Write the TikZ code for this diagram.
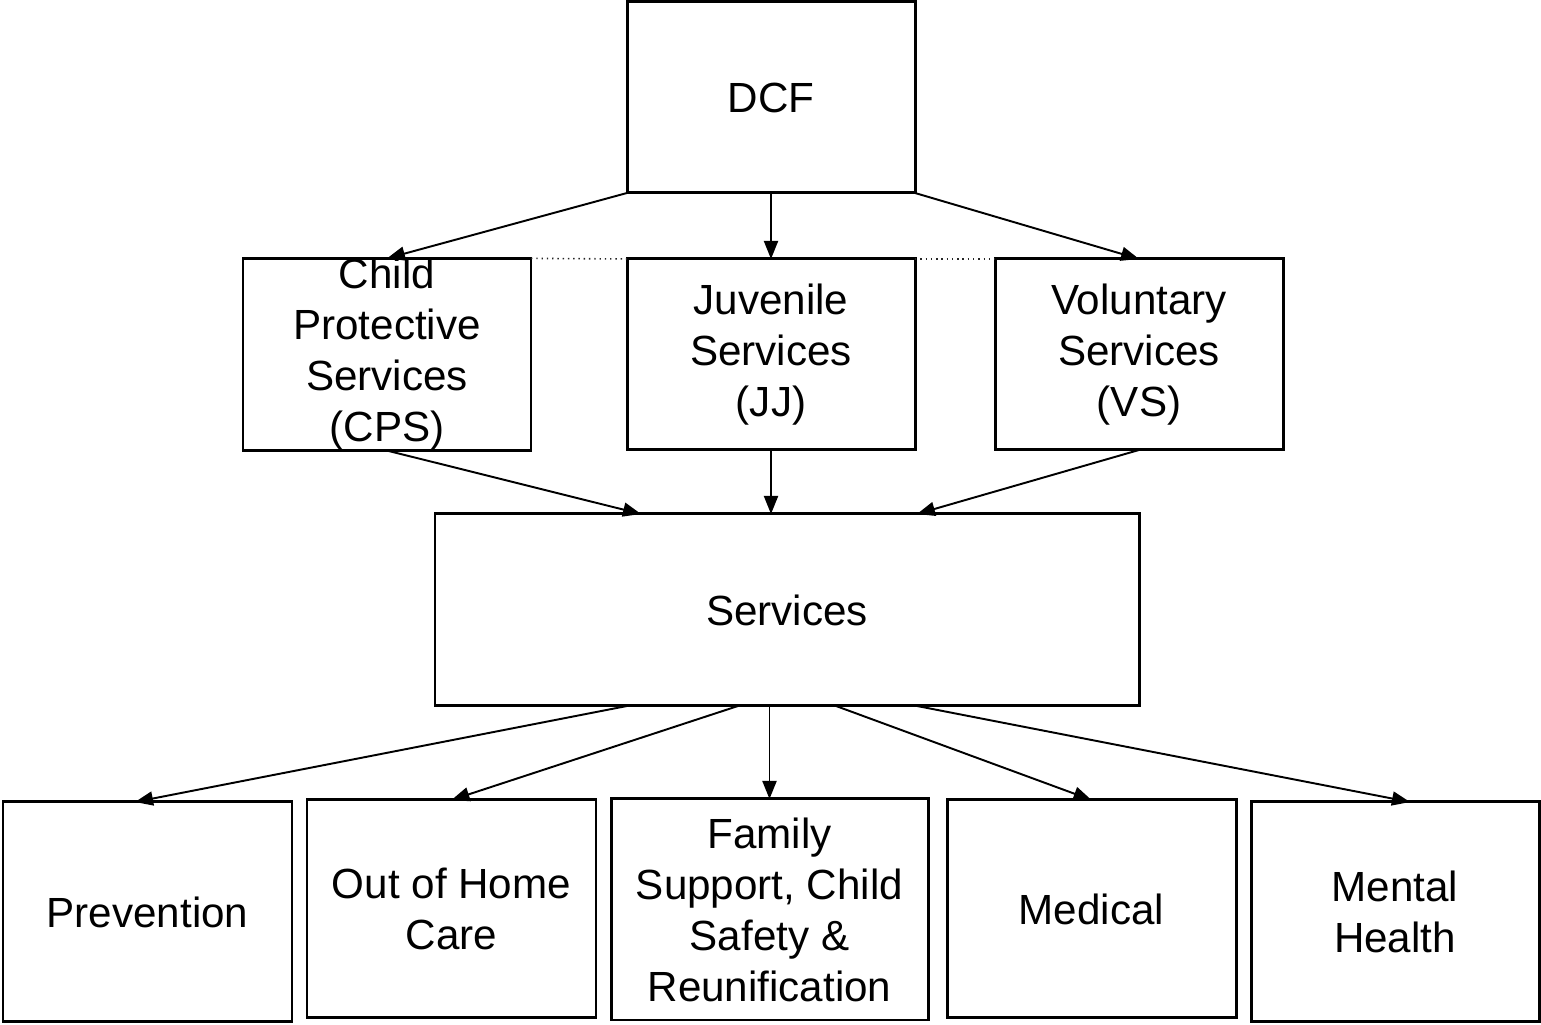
\documentclass[tikz,border=0pt]{standalone}
\usepackage{fontspec}
\setmainfont{Liberation Sans}
\usetikzlibrary{arrows.meta}
\tikzset{
  box/.style={draw, line width=0.85pt, inner sep=0pt, outer sep=0pt, align=center,
    font=\fontsize{12}{14.5}\selectfont},
  link/.style={line width=0.55pt, -{Triangle[length=0.18cm,width=0.14cm]}},
  gap/.style={dash pattern=on 0.4pt off 1.1pt, line width=0.45pt, black!85}
}
\begin{document}
\begin{tikzpicture}
          \useasboundingbox (0, 0) rectangle (15.41, 10.25);
          % top
          \node[box, minimum width=2.88cm, minimum height=1.91cm] (dcf) at (7.71, 9.275){DCF};
          % second row
          \node[box, minimum width=2.88cm, minimum height=1.91cm] (cps) at (3.87, 6.705){Child\\Protective\\Services\\(CPS)};
          \node[box, minimum width=2.88cm, minimum height=1.91cm] (jj) at (7.71, 6.705){Juvenile\\Services\\(JJ)};
          \node[box, minimum width=2.88cm, minimum height=1.91cm] (vs) at (11.39, 6.705){Voluntary\\Services\\(VS)};
          \draw[gap] (cps.north east) -- (jj.north west);
          \draw[gap] (jj.north east) -- (vs.north west);
          % middle
          \node[box, minimum width=7.04cm, minimum height=1.92cm] (srv) at (7.87, 4.15){Services};
          % bottom row
          \node[box, minimum width=2.89cm, minimum height=2.20cm] (prev) at (1.475, 1.13){Prevention};
          \node[box, minimum width=2.89cm, minimum height=2.18cm] (ohc) at (4.515, 1.16){Out of Home\\Care};
          \node[box, minimum width=3.17cm, minimum height=2.21cm] (fam) at (7.695, 1.155){Family\\Support, Child\\Safety \&\\Reunification};
          \node[box, minimum width=2.89cm, minimum height=2.18cm] (med) at (10.915, 1.16){Medical};
          \node[box, minimum width=2.88cm, minimum height=2.20cm] (mh) at (13.95, 1.13){Mental\\Health};
          % connection points on Services
          \coordinate (in1) at (6.41, 0 |- srv.north);
          \coordinate (in2) at (9.17, 0 |- srv.north);
          \coordinate (out1) at (6.27, 0 |- srv.south);
          \coordinate (out2) at (7.38, 0 |- srv.south);
          \coordinate (out4) at (8.36, 0 |- srv.south);
          \coordinate (out5) at (9.17, 0 |- srv.south);
          % arrows
          \draw[link] (dcf.south west) -- (cps.north);
          \draw[link] (dcf.south) -- (jj.north);
          \draw[link] (dcf.south east) -- (vs.north);
          \draw[link] (cps.south) -- (in1);
          \draw[link] (jj.south) -- (jj.south |- srv.north);
          \draw[link] (vs.south) -- (in2);
          \draw[link] (out1) -- (1.35, 0 |- prev.north);
          \draw[link] (out2) -- (ohc.north);
          \draw[link] (srv.south -| fam.north) -- (fam.north);
          \draw[link] (out4) -- (med.north);
          \draw[link] (out5) -- (14.10, 0 |- mh.north);
\end{tikzpicture}
\end{document}
